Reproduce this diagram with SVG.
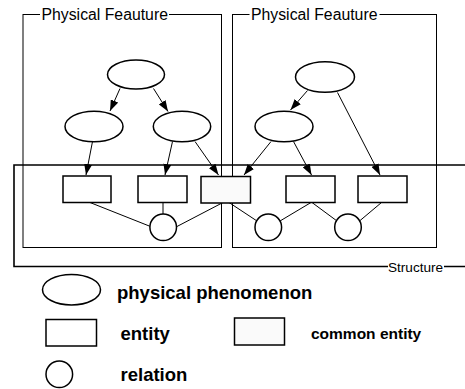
<svg xmlns="http://www.w3.org/2000/svg" width="465" height="389" viewBox="0 0 465 389">
  <style>
    .frame { fill: none; stroke: #000; stroke-width: 1; }
    .struct { fill: none; stroke: #000; stroke-width: 1.6; }
    .node { fill: #fff; stroke: #000; stroke-width: 1.5; }
    .common { fill: #fafafa; stroke: #000; stroke-width: 1.5; }
    .edge { fill: none; stroke: #000; stroke-width: 1; }
    .arrow { fill: none; stroke: #000; stroke-width: 1; marker-end: url(#head); }
    .title { font-family: "Liberation Sans", Arial, sans-serif; font-size: 15.8px; fill: #000; }
    .label { font-family: "Liberation Sans", Arial, sans-serif; font-weight: bold; font-size: 18.5px; fill: #000; }
    .small { font-family: "Liberation Sans", Arial, sans-serif; font-weight: bold; font-size: 15.5px; fill: #000; }
    .gap { fill: #fff; stroke: none; }
  </style>
  <defs>
    <marker id="head" markerUnits="userSpaceOnUse" markerWidth="11" markerHeight="8" refX="11" refY="4" orient="auto">
      <path d="M0,0 L11,4 L0,8 z" fill="#000"/>
    </marker>
  </defs>

  <rect width="465" height="389" fill="#fff"/>

  <!-- feature frames -->
  <g id="feature-left">
    <rect class="frame" x="23" y="14.5" width="198.5" height="233"/>
    <rect class="gap" x="40" y="8" width="129" height="14"/>
    <text class="title" x="41.5" y="20">Physical Feauture</text>
  </g>
  <g id="feature-right">
    <rect class="frame" x="232.5" y="14.5" width="204" height="233"/>
    <rect class="gap" x="249.5" y="8" width="130" height="14"/>
    <text class="title" x="251" y="20">Physical Feauture</text>
  </g>

  <!-- structure frame (open to the right) -->
  <g id="structure">
    <path class="struct" d="M465,165 H14 V266.5 H388 M444,266.5 H465"/>
    <text class="title" x="388" y="272" style="font-size:13.6px">Structure</text>
  </g>

  <!-- connectors -->
  <g id="connectors">
    <path class="arrow" d="M120,88.5 L110,111"/>
    <path class="arrow" d="M153.5,88.5 L168,111.5"/>
    <path class="arrow" d="M92.5,141.5 L86,175"/>
    <path class="arrow" d="M172.5,141.5 L165,175"/>
    <path class="arrow" d="M195,141.5 L218.5,175"/>
    <path class="arrow" d="M307.5,90.5 L290.5,110"/>
    <path class="arrow" d="M337.5,92.5 L380,175"/>
    <path class="arrow" d="M271,141.5 L244,175"/>
    <path class="arrow" d="M293.5,141.5 L311.5,175"/>

    <path class="edge" d="M90,202.5 L150.5,226.5"/>
    <path class="edge" d="M163,202.5 L163,214"/>
    <path class="edge" d="M223,202.5 L176,227"/>
    <path class="edge" d="M229,202.5 L257,221"/>
    <path class="edge" d="M311,202.5 L280,221"/>
    <path class="edge" d="M312,202.5 L337,221"/>
    <path class="edge" d="M381.5,202.5 L359.5,221"/>
  </g>

  <!-- phenomena -->
  <g id="ph-left-top"><ellipse class="node" cx="136" cy="74.5" rx="28.5" ry="14.5"/></g>
  <g id="ph-left-a"><ellipse class="node" cx="94" cy="126.5" rx="29" ry="15.3"/></g>
  <g id="ph-left-b"><ellipse class="node" cx="182" cy="126.5" rx="28.7" ry="15.3"/></g>
  <g id="ph-right-top"><ellipse class="node" cx="325" cy="77" rx="29.5" ry="15.3"/></g>
  <g id="ph-right-a"><ellipse class="node" cx="284" cy="126.5" rx="29" ry="15.3"/></g>

  <!-- entities -->
  <g id="entity-1"><rect class="node" x="63" y="176" width="48" height="26.5"/></g>
  <g id="entity-2"><rect class="node" x="138" y="176" width="49" height="26.5"/></g>
  <g id="entity-common"><rect class="common" x="201" y="176.5" width="49.5" height="26.5"/></g>
  <g id="entity-3"><rect class="node" x="286" y="176" width="49" height="26.5"/></g>
  <g id="entity-4"><rect class="node" x="358" y="176" width="49" height="26.5"/></g>

  <!-- relations -->
  <g id="relation-1"><circle class="node" cx="163.2" cy="227.3" r="13.3"/></g>
  <g id="relation-2"><circle class="node" cx="268.3" cy="227.3" r="13.3"/></g>
  <g id="relation-3"><circle class="node" cx="348" cy="227.3" r="13.3"/></g>

  <!-- legend -->
  <g id="legend">
    <ellipse class="node" cx="71.5" cy="289.7" rx="29" ry="15.3"/>
    <text class="label" x="117" y="298.5">physical phenomenon</text>
    <rect class="node" x="46" y="319.5" width="50.5" height="26.5"/>
    <text class="label" x="120.5" y="340">entity</text>
    <rect class="common" x="234.5" y="318" width="50" height="27"/>
    <text class="small" x="311" y="338.5">common entity</text>
    <circle class="node" cx="59.3" cy="374.3" r="13.3"/>
    <text class="label" x="120.5" y="381">relation</text>
  </g>
</svg>
